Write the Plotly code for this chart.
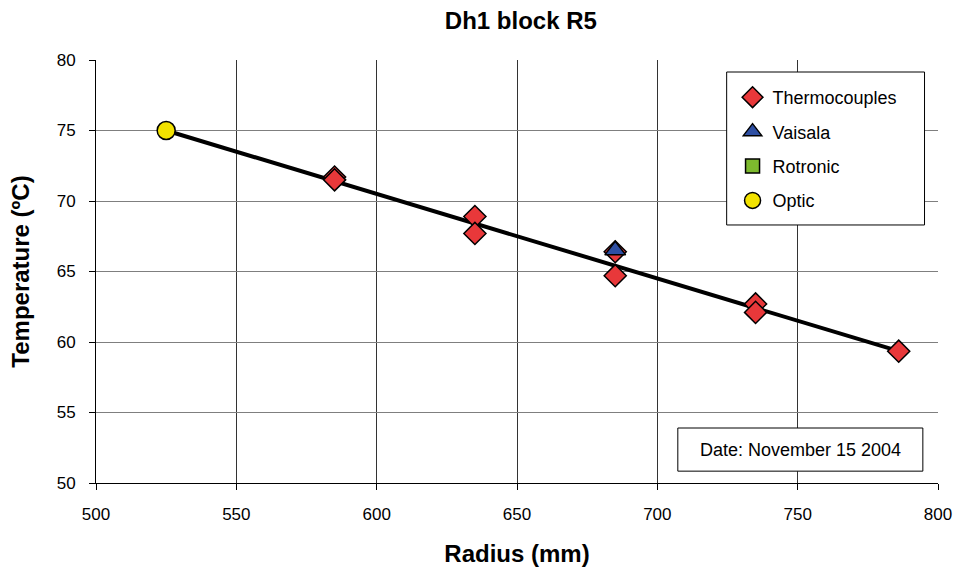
import plotly.graph_objects as go

# Data
thermo_x = [585, 585, 635, 635, 685, 685, 735, 735, 786]
thermo_y = [71.7, 71.5, 68.9, 67.7, 66.4, 64.7, 62.7, 62.1, 59.35]
vaisala_x = [685]
vaisala_y = [66.5]
rotronic_x = [None]
rotronic_y = [None]
optic_x = [525]
optic_y = [75.0]
trend_x = [525, 786]
trend_y = [75.0, 59.35]

x_ticks = [500, 550, 600, 650, 700, 750, 800]
y_ticks = [50, 55, 60, 65, 70, 75, 80]

FONT = "Liberation Sans, Arial, sans-serif"

fig = go.Figure()
fig.add_trace(go.Scatter(x=trend_x, y=trend_y, mode="lines",
                         line=dict(color="black", width=4), showlegend=False, hoverinfo="skip"))
fig.add_trace(go.Scatter(x=thermo_x, y=thermo_y, mode="markers", name="Thermocouples",
                         legendgroup="a",
                         marker=dict(symbol="diamond", size=17, color="#E8383A",
                                     line=dict(color="black", width=1.5))))
fig.add_trace(go.Scatter(x=vaisala_x, y=vaisala_y, mode="markers", name="Vaisala",
                         legendgroup="b",
                         marker=dict(symbol="triangle-up", size=18, color="#2E4FA3",
                                     line=dict(color="black", width=1.5))))
fig.add_trace(go.Scatter(x=rotronic_x, y=rotronic_y, mode="markers", name="Rotronic",
                         legendgroup="c",
                         marker=dict(symbol="square", size=14, color="#7DBA2E",
                                     line=dict(color="black", width=1.5))))
fig.add_trace(go.Scatter(x=optic_x, y=optic_y, mode="markers", name="Optic",
                         legendgroup="d",
                         marker=dict(symbol="circle", size=18, color="#F2E200",
                                     line=dict(color="black", width=1.5))))

fig.update_layout(
    width=954, height=567,
    margin=dict(l=95.5, r=15.5, t=60, b=84),
    paper_bgcolor="white", plot_bgcolor="white",
    font=dict(family=FONT, size=17, color="black"),
    title=dict(text="<b>Dh1 block R5</b>", x=0.546, xanchor="center", y=0.964, yanchor="middle",
               font=dict(size=24, family=FONT)),
    showlegend=True,
    legend=dict(x=0.756, y=0.955, xanchor="left", yanchor="top",
                bgcolor="rgba(0,0,0,0)", borderwidth=0,
                font=dict(size=18, family=FONT), itemsizing="trace",
                tracegroupgap=8),
    xaxis=dict(range=[500, 800], tickvals=x_ticks, ticks="outside", ticklen=6,
               tickcolor="black", showline=True, linecolor="black", linewidth=1,
               showgrid=True, gridcolor="#333333", gridwidth=1, zeroline=False,
               automargin=False, ticklabelstandoff=10,
               title=dict(text="<b>Radius (mm)</b>", font=dict(size=24, family=FONT), standoff=25),
               tickfont=dict(size=17, family=FONT)),
    yaxis=dict(range=[50, 80], tickvals=y_ticks, ticks="outside", ticklen=6,
               tickcolor="black", showline=True, linecolor="black", linewidth=1,
               showgrid=True, gridcolor="#7f7f7f", gridwidth=1, zeroline=False,
               automargin=False, ticklabelstandoff=10,
               title=dict(text="<b>Temperature (ºC)</b>", font=dict(size=24, family=FONT), standoff=20),
               tickfont=dict(size=17, family=FONT)),
    shapes=[
        dict(type="rect", xref="paper", yref="paper", x0=0.749, x1=0.984, y0=0.61, y1=0.9716,
             line=dict(color="black", width=1), fillcolor="white", layer="above"),
        dict(type="rect", xref="paper", yref="paper", x0=0.691, x1=0.982, y0=0.028, y1=0.13,
             line=dict(color="black", width=1), fillcolor="white", layer="above"),
    ],
)

fig.add_annotation(xref="paper", yref="paper", x=0.8365, y=0.079, xanchor="center", yanchor="middle",
                   text="Date: November 15 2004", showarrow=False,
                   font=dict(size=18, family=FONT))

fig.write_html("out.html", config={"displayModeBar": False},
               post_script="document.body.style.margin='0';")
